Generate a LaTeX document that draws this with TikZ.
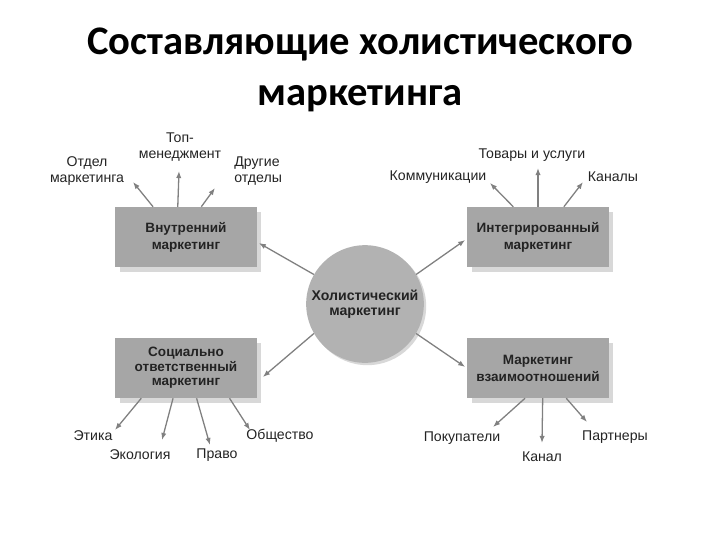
\documentclass[tikz,border=0pt]{standalone}
\usepackage{fontspec}
\setmainfont{Liberation Sans}
\newfontfamily\titlefont{Carlito}
\usetikzlibrary{shadows,arrows.meta}
\definecolor{boxgray}{RGB}{166,166,166}
\definecolor{circgray}{RGB}{178,178,178}
\definecolor{shadegray}{RGB}{216,216,216}
\definecolor{arrgray}{RGB}{128,128,128}
\definecolor{txtgray}{RGB}{35,35,35}
\tikzset{
  box/.style={fill=boxgray, minimum width=120pt, minimum height=51pt, inner sep=1pt, align=center, text=txtgray,
    font=\bfseries\fontsize{11.5}{14.5}\selectfont,
    drop shadow={shadow xshift=4pt, shadow yshift=-4pt, fill=shadegray, opacity=1}},
  hub/.style={circle, fill=circgray, minimum size=100pt, inner sep=0pt, align=center, text=txtgray,
    font=\bfseries\fontsize{12}{13}\selectfont,
    drop shadow={shadow xshift=2pt, shadow yshift=-2pt, fill=shadegray, opacity=1}},
  lab/.style={align=center, inner sep=1pt, text=txtgray, font=\fontsize{12}{13}\selectfont},
  arr/.style={draw=arrgray, line width=1.1pt, -{Latex[length=6pt,width=4.5pt]}}
}
\begin{document}
\begin{tikzpicture}[x=0.85pt,y=-0.85pt]
    \useasboundingbox (0,0) rectangle (720,540);
    % title
    \node (title) at (360,70) [align=center, font=\titlefont\bfseries\fontsize{34.5}{43}\selectfont] {Составляющие холистического\\маркетинга};

    % boxes
    \node (vnut) at (186,237) [box] {Внутренний\\маркетинг};
    \node (integ) at (538,237) [box] {Интегрированный\\маркетинг};
    \node (soc) at (186,368) [box, font=\bfseries\fontsize{11.5}{12.3}\selectfont] {Социально\\ответственный\\маркетинг};
    \node (vzaim) at (538,368) [box] {Маркетинг\\взаимоотношений};
    \node (hol) at (365,304) [hub] {Холистический\\маркетинг};

    % center arrows
    \draw [arr] (hol.150) -- ([shift={(2,6)}]vnut.east);\draw [arr] (hol.30) -- ([shift={(-2,3)}]integ.west);
    \draw [arr] (hol.210) -- ([shift={(6,9)}]soc.east);\draw [arr] (hol.330) -- ([shift={(-2,-1)}]vzaim.west);

    % lecter
    \node (otdel) at (87,171) [lab] {Отдел\\маркетинга};
    \node (top) at (180,147) [lab] {Топ-\\менеджмент};
    \node (drugie) at (233,171) [lab, anchor=west, align=left] {Другие\\отделы};
    \node (tovary) at (532,155) [lab] {Товары и услуги};
    \node (komm) at (438,177) [lab] {Коммуникации};
    \node (kanaly) at (613,177) [lab] {Каналы};
    \node (etika) at (93,436) [lab] {Этика};\node (ekol) at (140,455) [lab] {Экология};
    \node (pravo) at (217,455) [lab] {Право};\node (obsh) at (280,436) [lab] {Общество};
    \node (pokup) at (462,438) [lab] {Покупатели};\node (kanal) at (542,457) [lab] {Канал};
    \node (partn) at (615,437) [lab] {Партнеры};

    % arrow tips
    \coordinate (t1) at (133,182);\coordinate (t2) at (179,171);\coordinate (t3) at (215,188);
    \coordinate (t4) at (490,183);\coordinate (t5) at (538,168);\coordinate (t6) at (583,182);
    \coordinate (t7) at (115,430);\coordinate (t8) at (162,440);\coordinate (t9) at (210,445);\coordinate (t10) at (250,430);
    \coordinate (t11) at (493,427);\coordinate (t12) at (542,443);\coordinate (t13) at (587,422);

    % outer arrows
    \draw [arr] ([xshift=-28]vnut.north) -- (t1);\draw [arr] ([xshift=-7]vnut.north) -- (t2);\draw [arr] ([xshift=13]vnut.north) -- (t3);
    \draw [arr] ([xshift=-21]integ.north) -- (t4);\draw [arr] (integ.north) -- (t5);\draw [arr] ([xshift=22]integ.north) -- (t6);
    \draw [arr] ([xshift=-38]soc.south) -- (t7);\draw [arr] ([xshift=-11]soc.south) -- (t8);\draw [arr] ([xshift=9]soc.south) -- (t9);\draw [arr] ([xshift=37]soc.south) -- (t10);
    \draw [arr] ([xshift=-11]vzaim.south) -- (t11);\draw [arr] ([xshift=4]vzaim.south) -- (t12);\draw [arr] ([xshift=24]vzaim.south) -- (t13);
\end{tikzpicture}
\end{document}
